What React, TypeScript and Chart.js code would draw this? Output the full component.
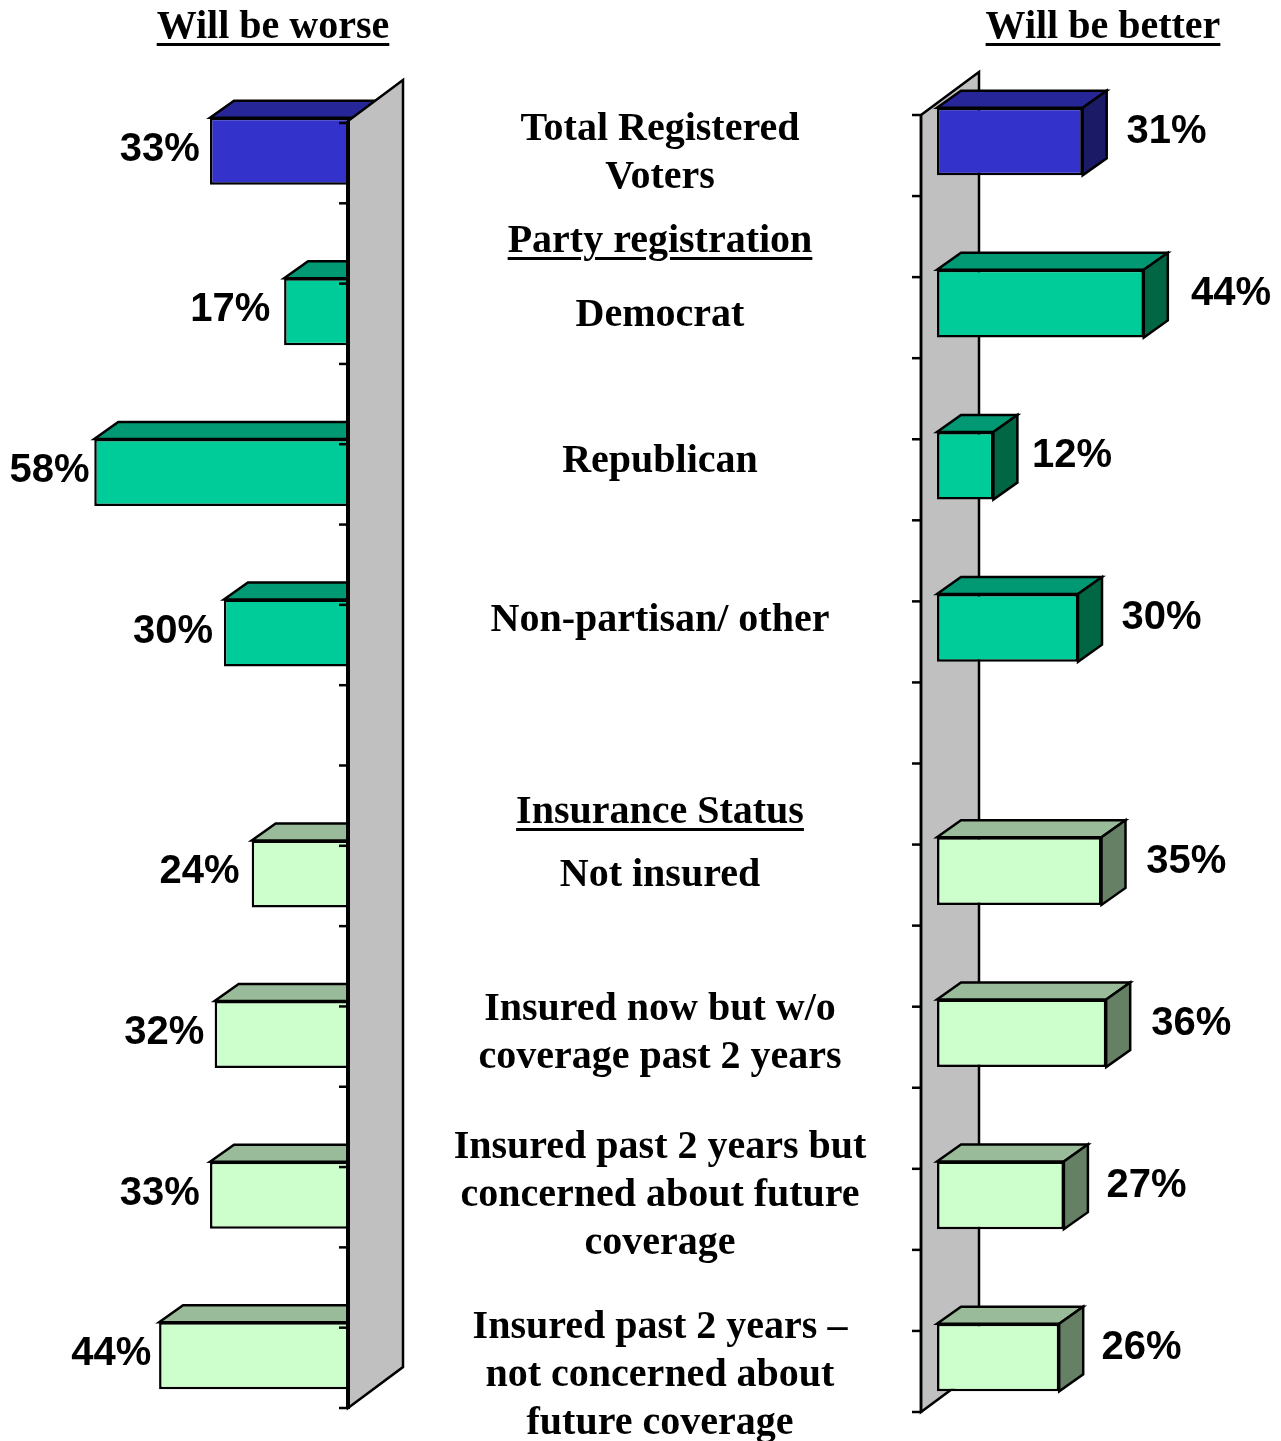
import React, { useEffect, useRef } from "react";
import { Chart, registerables } from "chart.js";

Chart.register(...registerables);

// ---------- data ----------
const rowLabels = [
  "Total Registered Voters", "",
  "Democrat", "",
  "Republican", "",
  "Non-partisan/ other", "", "",
  "Not insured", "",
  "Insured now but w/o coverage past 2 years", "",
  "Insured past 2 years but concerned about future coverage", "",
  "Insured past 2 years – not concerned about future coverage",
];
const rowGroups = [
  "total", "",
  "party", "",
  "party", "",
  "party", "", "",
  "insurance", "",
  "insurance", "",
  "insurance", "",
  "insurance",
];
const worseValues = [33, null, 17, null, 58, null, 30, null, null, 24, null, 32, null, 33, null, 44];
const betterValues = [31, null, 44, null, 12, null, 30, null, null, 35, null, 36, null, 27, null, 26];

const headerWorse = "Will be worse";
const headerBetter = "Will be better";

// middle text: lines + first-line baseline (layout)
const middleBlocks: { lines: string[]; baseline: number; underline?: boolean }[] = [
  { lines: ["Total Registered", "Voters"], baseline: 140 },
  { lines: ["Party registration"], baseline: 252, underline: true },
  { lines: ["Democrat"], baseline: 326 },
  { lines: ["Republican"], baseline: 472 },
  { lines: ["Non-partisan/ other"], baseline: 631 },
  { lines: ["Insurance Status"], baseline: 823, underline: true },
  { lines: ["Not insured"], baseline: 886 },
  { lines: ["Insured now but w/o", "coverage past 2 years"], baseline: 1020 },
  { lines: ["Insured past 2 years but", "concerned about future", "coverage"], baseline: 1158 },
  { lines: ["Insured past 2 years –", "not concerned about", "future coverage"], baseline: 1338 },
];

// ---------- styles ----------
const palette: Record<string, { front: string; top: string; side: string }> = {
  total: { front: "#3333CC", top: "#262699", side: "#1A1A66" },
  party: { front: "#00CC99", top: "#009973", side: "#006644" },
  insurance: { front: "#CCFFCC", top: "#99BB99", side: "#668066" },
};
const W = 1281;
const H = 1441;
const BAR_DX = 24;
const BAR_DY = -17;
const EDGE = 2.5;
const LABEL_FONT = "bold 40px 'Liberation Sans', Arial, Helvetica, sans-serif";
const SERIF = "'Liberation Serif', 'Times New Roman', Times, serif";

function barRect(el: any) {
  const left = Math.min(el.x, el.base);
  const right = Math.max(el.x, el.base);
  const top = el.y - el.height / 2;
  const bottom = el.y + el.height / 2;
  return { left, right, top, bottom };
}

function poly(ctx: CanvasRenderingContext2D, pts: number[][], fill: string, lw = EDGE) {
  ctx.beginPath();
  ctx.moveTo(pts[0][0], pts[0][1]);
  for (let i = 1; i < pts.length; i++) ctx.lineTo(pts[i][0], pts[i][1]);
  ctx.closePath();
  ctx.fillStyle = fill;
  ctx.fill();
  ctx.lineWidth = lw;
  ctx.strokeStyle = "#000";
  ctx.lineJoin = "miter";
  ctx.stroke();
}

function drawTopFaces(chart: any, values: (number | null)[], withSide: boolean) {
  const ctx = chart.ctx as CanvasRenderingContext2D;
  const meta = chart.getDatasetMeta(0);
  ctx.save();
  meta.data.forEach((el: any, i: number) => {
    if (values[i] == null) return;
    const c = palette[rowGroups[i]];
    const r = barRect(el);
    poly(ctx, [
      [r.left, r.top], [r.left + BAR_DX, r.top + BAR_DY],
      [r.right + BAR_DX, r.top + BAR_DY], [r.right, r.top],
    ], c.top);
    if (withSide) {
      poly(ctx, [
        [r.right, r.top], [r.right + BAR_DX, r.top + BAR_DY],
        [r.right + BAR_DX, r.bottom + BAR_DY], [r.right, r.bottom],
      ], c.side);
    }
  });
  ctx.restore();
}

function drawWall(chart: any, o: { frontX: number; tickOff: number; dx: number; dy: number; frontLW: number; topExtra: number }) {
  const ctx = chart.ctx as CanvasRenderingContext2D;
  const a = chart.chartArea;
  const n = rowLabels.length;
  const slot = (a.bottom - a.top) / n;
  const y0 = a.top + o.tickOff;
  const yN = y0 + n * slot;
  const fx = o.frontX;
  ctx.save();
  poly(ctx, [
    [fx, y0 - o.topExtra], [fx + o.dx, y0 - o.topExtra + o.dy],
    [fx + o.dx, yN + o.dy], [fx, yN],
  ], "#C0C0C0", 2.5);
  // front edge (axis line)
  ctx.beginPath();
  ctx.moveTo(fx, y0 - o.topExtra);
  ctx.lineTo(fx, yN + 1);
  ctx.lineWidth = o.frontLW;
  ctx.strokeStyle = "#000";
  ctx.stroke();
  // ticks
  ctx.lineWidth = 2.5;
  for (let k = 0; k <= n; k++) {
    const y = y0 + k * slot;
    ctx.beginPath();
    ctx.moveTo(fx - 9, y);
    ctx.lineTo(fx, y);
    ctx.stroke();
  }
  ctx.restore();
}

const leftPlugin = {
  id: "left3d",
  beforeDatasetsDraw(chart: any) {
    drawTopFaces(chart, worseValues, false);
  },
  afterDatasetsDraw(chart: any) {
    const xs = chart.scales.x;
    drawWall(chart, { frontX: xs.getPixelForValue(0) - 14.8, tickOff: 12, dx: 55, dy: -41, frontLW: 4, topExtra: 2 });
    const ctx = chart.ctx as CanvasRenderingContext2D;
    const meta = chart.getDatasetMeta(0);
    ctx.save();
    ctx.font = LABEL_FONT;
    ctx.fillStyle = "#000";
    ctx.textAlign = "right";
    ctx.textBaseline = "alphabetic";
    meta.data.forEach((el: any, i: number) => {
      const v = worseValues[i];
      if (v == null) return;
      const x = xs.getPixelForValue(v * 0.953) - 17.4;
      ctx.fillText(v + "%", x, el.y + 9.5);
    });
    ctx.restore();
  },
};

const rightPlugin = {
  id: "right3d",
  beforeDatasetsDraw(chart: any) {
    const xs = chart.scales.x;
    drawWall(chart, { frontX: xs.getPixelForValue(0) - 16, tickOff: 14, dx: 58, dy: -43, frontLW: 2.5, topExtra: 0 });
    drawTopFaces(chart, betterValues, true);
  },
  afterDatasetsDraw(chart: any) {
    const xs = chart.scales.x;
    const ctx = chart.ctx as CanvasRenderingContext2D;
    const meta = chart.getDatasetMeta(0);
    ctx.save();
    ctx.font = LABEL_FONT;
    ctx.fillStyle = "#000";
    ctx.textAlign = "left";
    ctx.textBaseline = "alphabetic";
    meta.data.forEach((el: any, i: number) => {
      const v = betterValues[i];
      if (v == null) return;
      const x = xs.getPixelForValue(v * 1.057) + 35.4;
      ctx.fillText(v + "%", x, el.y + 1.5);
    });
    ctx.restore();
  },
};

function makeConfig(values: (number | null)[], reverse: boolean, padding: any, plugin: any): any {
  return {
    type: "bar",
    data: {
      labels: rowLabels,
      datasets: [
        {
          data: values,
          backgroundColor: rowGroups.map((g) => (g ? palette[g].front : "transparent")),
          borderColor: "#000",
          borderWidth: 2.5,
          borderSkipped: false,
          barPercentage: 0.834,
          categoryPercentage: 1,
        },
      ],
    },
    options: {
      indexAxis: "y",
      responsive: false,
      animation: false,
      layout: { padding },
      scales: {
        x: { type: "linear", min: 0, max: 70, reverse, display: false },
        y: { type: "category", display: false },
      },
      plugins: { legend: { display: false }, tooltip: { enabled: false } },
    },
    plugins: [plugin],
  };
}

function TextBlock({ lines, baseline, cx, underline }: { lines: string[]; baseline: number; cx: number; underline?: boolean }) {
  return (
    <div
      style={{
        position: "absolute",
        left: cx - 300,
        width: 600,
        top: baseline - 37.5,
        textAlign: "center",
        fontFamily: SERIF,
        fontWeight: "bold",
        fontSize: 40,
        lineHeight: "48px",
        whiteSpace: "nowrap",
        color: "#000",
        textDecoration: underline ? "underline" : "none",
        textDecorationThickness: "3px",
        textUnderlineOffset: "5px",
      }}
    >
      {lines.map((l, i) => (
        <div key={i}>{l}</div>
      ))}
    </div>
  );
}

export default function App() {
  const leftRef = useRef<HTMLCanvasElement | null>(null);
  const rightRef = useRef<HTMLCanvasElement | null>(null);

  useEffect(() => {
    const left = new Chart(
      leftRef.current!,
      makeConfig(worseValues, true, { left: 38.7, right: W - 362.8, top: 111, bottom: H - 1396 }, leftPlugin)
    );
    const right = new Chart(
      rightRef.current!,
      makeConfig(betterValues, false, { left: 937, right: W - 1266, top: 101, bottom: H - 1398 }, rightPlugin)
    );
    return () => {
      left.destroy();
      right.destroy();
    };
  }, []);

  return (
    <div style={{ position: "absolute", left: 0, top: 0, width: W, height: H, overflow: "hidden", background: "#fff" }}>
      <canvas ref={leftRef} width={W} height={H} style={{ position: "absolute", left: 0, top: 0, width: W, height: H }} />
      <canvas ref={rightRef} width={W} height={H} style={{ position: "absolute", left: 0, top: 0, width: W, height: H }} />
      <TextBlock lines={[headerWorse]} baseline={38} cx={273} underline />
      <TextBlock lines={[headerBetter]} baseline={38} cx={1103} underline />
      {middleBlocks.map((b, i) => (
        <TextBlock key={i} lines={b.lines} baseline={b.baseline} cx={660} underline={b.underline} />
      ))}
    </div>
  );
}
